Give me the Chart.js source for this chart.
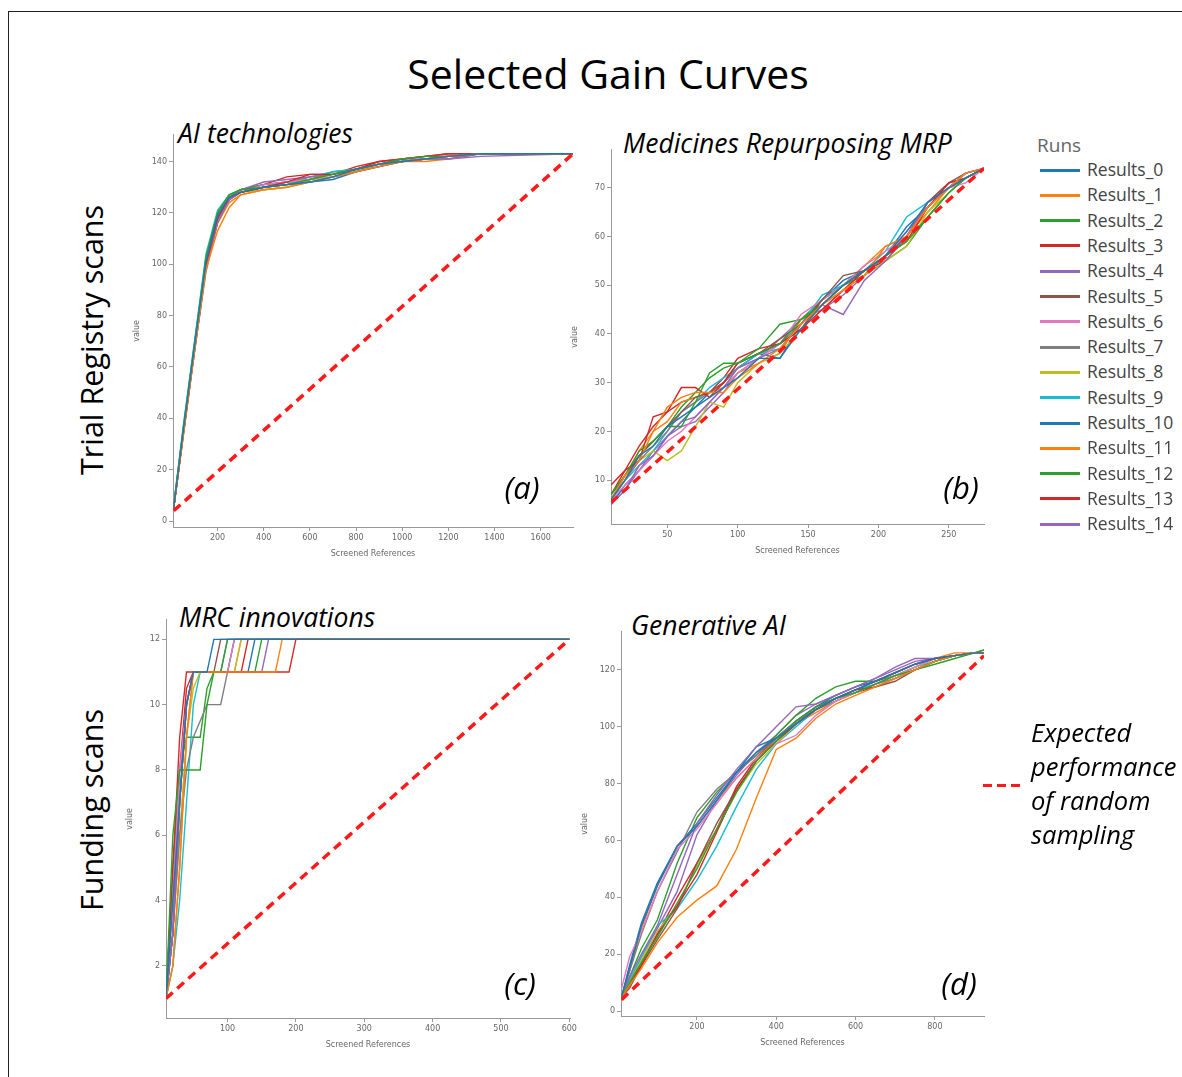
<!DOCTYPE html>
<html>
<head>
<meta charset="utf-8">
<title>Selected Gain Curves</title>
<script src="https://cdn.jsdelivr.net/npm/chart.js@4.4.1/dist/chart.umd.min.js"></script>
<style>
body { margin: 0; background: #fff; }
#page { position: relative; width: 1182px; height: 1077px; overflow: hidden; font-family: "Open Sans", sans-serif; }
#frame { position: absolute; left: 8px; top: 11px; width: 1300px; height: 1200px; border-top: 1.5px solid #222; border-left: 1.5px solid #222; }
canvas { position: absolute; }
.t { position: absolute; white-space: nowrap; color: #000; line-height: 1; }
.c { transform: translate(-50%, -50%); }
.l { transform: translateY(-50%); }
.rot { transform: translate(-50%, -50%) rotate(-90deg); }
.panel { font-style: italic; font-size: 26.5px; }
.letter { font-style: italic; font-size: 31px; }
.expl { font-style: italic; font-size: 25.5px; }
.sw { position: absolute; width: 40px; height: 3px; }
.lg { position: absolute; font-size: 17.5px; color: #444; line-height: 1; transform: translateY(-50%); }
</style>
</head>
<body>
<div id="page">
    <div id="frame"></div>

    <div class="t c" style="left:608px; top:73px; font-size:41px;">Selected Gain Curves</div>
    <div class="t rot" style="left:91px; top:340px; font-size:30.5px;">Trial Registry scans</div>
    <div class="t rot" style="left:91px; top:810px; font-size:30.5px;">Funding scans</div>

    <div class="t l panel" style="left:178px; top:133px;">AI technologies</div>
    <div class="t l panel" style="left:623px; top:143px;">Medicines Repurposing MRP</div>
    <div class="t l panel" style="left:179px; top:617px;">MRC innovations</div>
    <div class="t l panel" style="left:631px; top:625px;">Generative AI</div>

    <canvas id="chartA"></canvas>
    <canvas id="chartB"></canvas>
    <canvas id="chartC"></canvas>
    <canvas id="chartD"></canvas>

    <div class="t c letter" style="left:522px; top:487px;">(a)</div>
    <div class="t c letter" style="left:961px; top:487px;">(b)</div>
    <div class="t c letter" style="left:520px; top:983px;">(c)</div>
    <div class="t c letter" style="left:959px; top:983px;">(d)</div>

    <div id="legend"></div>

    <div style="position:absolute; left:983px; top:784px; width:40px; height:3px; background:repeating-linear-gradient(90deg, #ff1a1a 0 9px, transparent 9px 14px);"></div>
    <div class="t l expl" style="left:1031px; top:733px;">Expected</div>
    <div class="t l expl" style="left:1031px; top:767px;">performance</div>
    <div class="t l expl" style="left:1031px; top:801px;">of random</div>
    <div class="t l expl" style="left:1031px; top:835px;">sampling</div>
</div>

<script>
const runNames = ["Results_0", "Results_1", "Results_2", "Results_3", "Results_4", "Results_5", "Results_6", "Results_7",
    "Results_8", "Results_9", "Results_10", "Results_11", "Results_12", "Results_13", "Results_14"];
const runColors = ["#1f77b4", "#ff7f0e", "#2ca02c", "#d62728", "#9467bd", "#8c564b", "#e377c2", "#7f7f7f",
    "#bcbd22", "#17becf", "#1f77b4", "#ff7f0e", "#2ca02c", "#d62728", "#9467bd"];

// (a) AI technologies
const aiTechX = [10, 50, 100, 150, 200, 250, 300, 400, 500, 600, 700, 800, 900, 1000, 1100, 1200, 1340, 1740];
const aiTechRuns = [
    [5, 34, 68, 101, 119, 126, 128, 130, 131, 132, 134, 137, 139, 140, 141, 142, 143, 143],
    [5, 32, 66, 98, 113, 122, 127, 129, 130, 132, 134, 136, 138, 140, 141, 142, 143, 143],
    [6, 35, 69, 103, 120, 127, 129, 130, 131, 133, 135, 137, 139, 141, 142, 142, 143, 143],
    [5, 33, 67, 100, 118, 126, 128, 130, 132, 135, 135, 137, 140, 141, 142, 143, 143, 143],
    [5, 33, 66, 99, 117, 125, 129, 132, 133, 134, 135, 137, 139, 140, 141, 141, 143, 143],
    [5, 34, 67, 100, 118, 126, 128, 130, 131, 132, 134, 136, 138, 140, 141, 142, 143, 143],
    [6, 34, 68, 101, 119, 126, 128, 131, 132, 133, 135, 137, 139, 140, 142, 142, 143, 143],
    [5, 33, 66, 97, 116, 125, 128, 130, 132, 134, 135, 137, 139, 141, 142, 142, 143, 143],
    [5, 33, 67, 101, 119, 126, 128, 129, 130, 133, 134, 136, 139, 140, 141, 142, 143, 143],
    [6, 36, 70, 104, 121, 127, 128, 130, 131, 134, 136, 137, 139, 141, 141, 142, 143, 143],
    [5, 33, 67, 100, 118, 125, 128, 130, 131, 132, 133, 136, 138, 140, 141, 142, 143, 143],
    [5, 32, 66, 99, 116, 124, 127, 129, 130, 132, 134, 137, 139, 140, 140, 141, 143, 143],
    [6, 35, 69, 102, 120, 127, 129, 131, 132, 133, 136, 137, 139, 140, 141, 142, 143, 143],
    [5, 33, 67, 100, 119, 126, 129, 131, 134, 135, 135, 138, 140, 141, 142, 143, 143, 143],
    [5, 33, 66, 99, 118, 126, 129, 131, 132, 133, 134, 136, 139, 140, 141, 141, 142, 143]
];
const aiTechRef = [[10, 4], [1740, 143]];
const aiTechXTicks = [200, 400, 600, 800, 1000, 1200, 1400, 1600];
const aiTechYTicks = [0, 20, 40, 60, 80, 100, 120, 140];

// (b) Medicines Repurposing MRP
const mrpX = [10, 20, 30, 40, 50, 60, 70, 80, 90, 100, 115, 130, 145, 160, 175, 190, 205, 220, 235, 250, 262, 275];
const mrpRuns = [
    [6, 10, 15, 17, 21, 23, 25, 27, 29, 31, 35, 35, 41, 46, 50, 53, 56, 61, 67, 70, 72, 74],
    [6, 11, 14, 20, 25, 27, 28, 28, 28, 31, 34, 37, 42, 46, 49, 52, 58, 60, 66, 70, 73, 74],
    [7, 11, 16, 18, 21, 21, 26, 32, 34, 34, 36, 38, 43, 46, 50, 53, 56, 59, 64, 69, 72, 74],
    [9, 12, 14, 23, 24, 29, 29, 27, 30, 34, 36, 38, 41, 45, 49, 53, 56, 59, 66, 71, 72, 74],
    [5, 8, 13, 15, 19, 22, 23, 26, 29, 33, 35, 37, 42, 46, 44, 51, 55, 60, 67, 70, 73, 74],
    [6, 11, 15, 18, 21, 24, 27, 28, 30, 34, 36, 39, 42, 47, 52, 53, 56, 60, 67, 71, 73, 74],
    [6, 9, 12, 15, 18, 20, 23, 26, 29, 32, 35, 38, 44, 47, 50, 54, 57, 60, 66, 70, 71, 74],
    [6, 10, 14, 17, 20, 24, 26, 28, 30, 33, 35, 38, 42, 46, 50, 53, 56, 60, 66, 70, 72, 74],
    [6, 10, 14, 16, 14, 16, 21, 26, 25, 30, 34, 36, 41, 46, 49, 52, 55, 58, 65, 69, 72, 74],
    [6, 10, 13, 16, 20, 24, 26, 29, 31, 33, 36, 37, 42, 48, 50, 53, 57, 64, 67, 70, 73, 74],
    [5, 9, 12, 15, 19, 22, 25, 28, 30, 33, 36, 35, 42, 47, 51, 53, 56, 62, 66, 70, 72, 74],
    [6, 10, 16, 20, 22, 26, 27, 28, 29, 32, 34, 36, 43, 46, 50, 54, 58, 60, 65, 70, 72, 74],
    [7, 11, 15, 18, 21, 25, 28, 31, 33, 34, 37, 42, 43, 47, 50, 52, 55, 58, 64, 69, 72, 74],
    [7, 12, 17, 21, 24, 26, 27, 28, 31, 35, 37, 38, 41, 47, 50, 53, 55, 60, 67, 71, 72, 74],
    [5, 8, 12, 16, 19, 21, 22, 25, 28, 32, 35, 39, 43, 45, 48, 52, 56, 61, 66, 70, 73, 74]
];
const mrpRef = [[10, 5.4], [275, 74]];
const mrpXTicks = [50, 100, 150, 200, 250];
const mrpYTicks = [10, 20, 30, 40, 50, 60, 70];

// (c) MRC innovations
const mrcX = [10, 20, 30, 40, 50, 60, 70, 80, 90, 100, 110, 120, 130, 140, 150, 160, 170, 180, 190, 200, 600];
const mrcRuns = [
    [1, 4, 7, 10, 11, 11, 11, 12, 12, 12, 12, 12, 12, 12, 12, 12, 12, 12, 12, 12, 12],
    [1, 2, 5, 9, 11, 11, 11, 11, 11, 11, 11, 11, 11, 11, 11, 11, 11, 12, 12, 12, 12],
    [1, 6, 8, 8, 8, 8, 10, 11, 11, 12, 12, 12, 12, 12, 12, 12, 12, 12, 12, 12, 12],
    [1, 5, 9, 11, 11, 11, 11, 11, 11, 11, 11, 11, 11, 11, 11, 11, 11, 11, 11, 12, 12],
    [1, 3, 7, 10, 11, 11, 11, 11, 11, 11, 11, 11, 11, 11, 11, 12, 12, 12, 12, 12, 12],
    [1, 3, 7, 10, 11, 11, 11, 11, 12, 12, 12, 12, 12, 12, 12, 12, 12, 12, 12, 12, 12],
    [1, 4, 8, 10, 11, 11, 11, 11, 11, 11, 12, 12, 12, 12, 12, 12, 12, 12, 12, 12, 12],
    [1, 3, 6, 8, 9, 9.5, 10, 10, 10, 11, 12, 12, 12, 12, 12, 12, 12, 12, 12, 12, 12],
    [1, 3, 6, 9, 10.5, 11, 11, 11, 11, 11, 11, 12, 12, 12, 12, 12, 12, 12, 12, 12, 12],
    [1, 2, 4, 7, 10, 11, 11, 11, 11, 11, 12, 12, 12, 12, 12, 12, 12, 12, 12, 12, 12],
    [1, 3, 7, 10, 11, 11, 11, 11, 11, 11, 11, 11, 11, 12, 12, 12, 12, 12, 12, 12, 12],
    [1, 2, 5, 9, 11, 11, 11, 11, 11, 11, 11, 12, 12, 12, 12, 12, 12, 12, 12, 12, 12],
    [1, 5, 8, 9, 9, 9, 10.5, 11, 11, 11, 11, 11, 11, 11, 12, 12, 12, 12, 12, 12, 12],
    [1, 4, 8, 10.5, 11, 11, 11, 11, 11, 11, 11, 11, 12, 12, 12, 12, 12, 12, 12, 12, 12],
    [1, 3, 7, 10, 11, 11, 11, 11, 11, 12, 12, 12, 12, 12, 12, 12, 12, 12, 12, 12, 12]
];
const mrcRef = [[10, 1], [600, 12]];
const mrcXTicks = [100, 200, 300, 400, 500, 600];
const mrcYTicks = [2, 4, 6, 8, 10, 12];

// (d) Generative AI
const genAiX = [10, 30, 60, 100, 150, 200, 250, 300, 350, 400, 450, 500, 550, 600, 650, 700, 750, 800, 850, 900, 924];
const genAiRuns = [
    [5, 15, 30, 44, 58, 65, 74, 84, 91, 96, 101, 106, 110, 113, 116, 119, 122, 124, 125, 126, 126],
    [5, 9, 15, 24, 33, 39, 44, 57, 75, 92, 96, 103, 108, 111, 114, 117, 120, 123, 125, 126, 126],
    [5, 10, 17, 26, 38, 50, 64, 77, 88, 95, 102, 107, 110, 112, 115, 118, 120, 123, 125, 126, 127],
    [5, 9, 16, 27, 37, 48, 63, 78, 88, 95, 101, 106, 110, 113, 116, 119, 122, 124, 125, 126, 126],
    [5, 12, 20, 30, 48, 66, 76, 85, 93, 100, 107, 108, 111, 114, 117, 121, 124, 124, 125, 126, 126],
    [5, 8, 16, 25, 36, 52, 66, 78, 88, 95, 101, 106, 110, 113, 114, 116, 120, 123, 125, 126, 126],
    [8, 19, 28, 42, 57, 64, 73, 82, 89, 94, 97, 104, 109, 112, 115, 118, 121, 124, 125, 126, 126],
    [5, 14, 27, 42, 56, 70, 78, 84, 90, 96, 102, 106, 109, 112, 115, 117, 120, 123, 125, 126, 126],
    [5, 10, 18, 28, 37, 51, 64, 77, 87, 94, 101, 106, 109, 112, 115, 118, 121, 124, 125, 126, 126],
    [5, 11, 19, 30, 36, 46, 58, 72, 85, 94, 100, 106, 110, 113, 115, 118, 121, 123, 125, 126, 126],
    [5, 16, 31, 45, 58, 66, 75, 84, 93, 96, 102, 107, 111, 114, 116, 119, 122, 124, 125, 126, 126],
    [5, 14, 29, 44, 58, 65, 74, 82, 89, 95, 101, 105, 109, 112, 115, 118, 121, 124, 126, 126, 126],
    [5, 12, 22, 32, 52, 68, 77, 84, 90, 97, 104, 110, 114, 116, 116, 118, 120, 122, 124, 126, 127],
    [5, 9, 17, 27, 40, 52, 64, 79, 89, 96, 102, 107, 110, 112, 114, 117, 120, 123, 125, 126, 126],
    [5, 10, 19, 29, 42, 62, 74, 83, 91, 97, 104, 108, 111, 114, 117, 120, 123, 124, 125, 126, 126]
];
const genAiRef = [[10, 4], [924, 125]];
const genAiXTicks = [200, 400, 600, 800];
const genAiYTicks = [0, 20, 40, 60, 80, 100, 120];

const Y_BOX = 45;
const X_BOX = 36;
const PAD_TOP = 5;
const PAD_RIGHT = 10;

const tickFont = { family: "DejaVu Sans", size: 8 };
const titleFont = { family: "DejaVu Sans", size: 8 };

function desenharPainel(id, area, xs, runs, ref, xRange, yRange, xTicks, yTicks) {
    const canvas = document.getElementById(id);
    canvas.width = area.right - area.left + Y_BOX + PAD_RIGHT;
    canvas.height = area.bottom - area.top + PAD_TOP + X_BOX;
    canvas.style.left = (area.left - Y_BOX) + "px";
    canvas.style.top = (area.top - PAD_TOP) + "px";

    const datasets = runs.map((ys, i) => ({
        label: runNames[i],
        data: xs.map((x, j) => ({ x: x, y: ys[j] })),
        borderColor: runColors[i],
        borderWidth: 1.4,
        pointRadius: 0,
        tension: 0,
        fill: false
    }));

    datasets.push({
        label: "random",
        data: ref.map(p => ({ x: p[0], y: p[1] })),
        borderColor: "#ff1a1a",
        borderWidth: 3.5,
        borderDash: [9, 6],
        pointRadius: 0,
        fill: false,
        order: -1
    });

    return new Chart(canvas, {
        type: "line",
        data: { datasets },
        options: {
            responsive: false,
            animation: false,
            events: [],
            layout: { padding: { top: PAD_TOP, right: PAD_RIGHT, left: 0, bottom: 0 }, autoPadding: false },
            plugins: { legend: { display: false }, tooltip: { enabled: false } },
            scales: {
                x: {
                    type: "linear",
                    min: xRange[0],
                    max: xRange[1],
                    afterBuildTicks: s => { s.ticks = xTicks.map(v => ({ value: v })); },
                    afterFit: s => { s.height = X_BOX; },
                    ticks: { font: tickFont, color: "#666", maxRotation: 0, autoSkip: false, padding: 2, callback: v => String(v) },
                    grid: { drawOnChartArea: false, tickLength: 4, color: "#999" },
                    border: { color: "#999" },
                    title: { display: true, text: "Screened References", font: titleFont, color: "#666", padding: { top: 2, bottom: 4 } }
                },
                y: {
                    type: "linear",
                    min: yRange[0],
                    max: yRange[1],
                    afterBuildTicks: s => { s.ticks = yTicks.map(v => ({ value: v })); },
                    afterFit: s => { s.width = Y_BOX; },
                    ticks: { font: tickFont, color: "#666", autoSkip: false, padding: 2, callback: v => String(v) },
                    grid: { drawOnChartArea: false, tickLength: 4, color: "#999" },
                    border: { color: "#999" },
                    title: { display: true, text: "value", font: titleFont, color: "#666", padding: { top: 4, bottom: 2 } }
                }
            }
        }
    });
}

function montarLegenda() {
    const box = document.getElementById("legend");
    let html = '<div class="t l" style="left:1037px; top:145px; font-size:19px; color:#666;">Runs</div>';
    runNames.forEach((nome, i) => {
        const y = 170 + i * 25.3;
        html += `<div class="sw" style="left:1040px; top:${y - 1.5}px; background:${runColors[i]};"></div>`;
        html += `<div class="lg" style="left:1087px; top:${y}px;">${nome}</div>`;
    });
    box.innerHTML = html;
}

desenharPainel("chartA", { left: 173, top: 133, right: 573, bottom: 527 }, aiTechX, aiTechRuns, aiTechRef,
    [7, 1740], [-2.3, 150.4], aiTechXTicks, aiTechYTicks);
desenharPainel("chartB", { left: 611, top: 148, right: 984, bottom: 524 }, mrpX, mrpRuns, mrpRef,
    [10, 275], [1, 77.8], mrpXTicks, mrpYTicks);
desenharPainel("chartC", { left: 166, top: 618, right: 570, bottom: 1018 }, mrcX, mrcRuns, mrcRef,
    [10, 601], [0.4, 12.6], mrcXTicks, mrcYTicks);
desenharPainel("chartD", { left: 621, top: 630, right: 984, bottom: 1016 }, genAiX, genAiRuns, genAiRef,
    [8.5, 924], [-1.75, 133.4], genAiXTicks, genAiYTicks);

montarLegenda();
</script>
</body>
</html>
